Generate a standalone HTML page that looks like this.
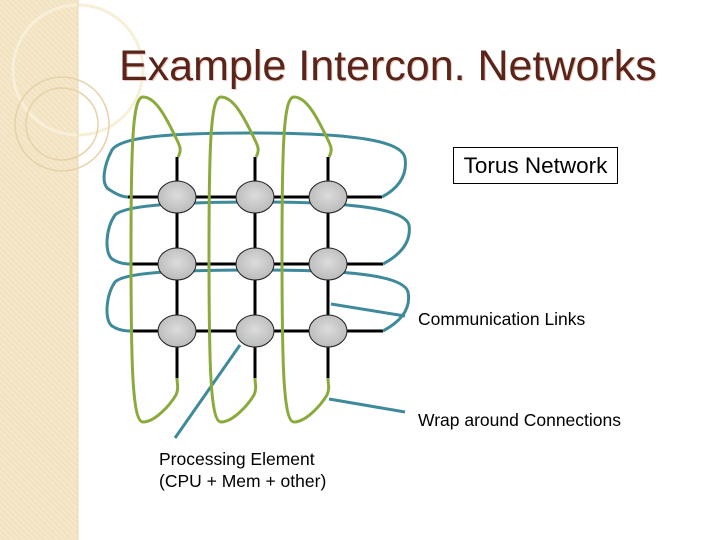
<!DOCTYPE html>
<html><head><style>
html,body{margin:0;padding:0;}
body{width:720px;height:540px;position:relative;background:#fff;overflow:hidden;font-family:"Liberation Sans",sans-serif;}
.side{position:absolute;left:0;top:0;width:78px;height:540px;background:#f2e2c0;
background-image:repeating-linear-gradient(45deg,rgba(255,255,255,.18) 0 2px,transparent 2px 4px);}
.t{position:absolute;left:119px;top:42px;font-size:43px;color:#5a2418;text-shadow:1px 1px 0 #e8c8c0;white-space:nowrap;}
.box{position:absolute;left:453px;top:147px;width:163px;height:35px;border:1px solid #000;font-size:22.5px;line-height:35px;text-align:center;}
.l{position:absolute;font-size:17.5px;white-space:nowrap;line-height:22px;}
</style></head><body>
<div class="side"></div>
<svg style="position:absolute;left:0;top:0" width="720" height="540">
<g fill="none" stroke="#f8efd8" stroke-width="3">
<circle cx="78" cy="70" r="65"/>
</g>
<g fill="none" stroke="#e6d2a8" stroke-width="1.5">
<circle cx="62" cy="124" r="47"/><circle cx="62" cy="124" r="36"/>
</g>
<line x1="78" y1="0" x2="78" y2="540" stroke="#e8d7b5"/>
<g stroke="#000" stroke-width="3">
<line x1="128" y1="197" x2="382" y2="197"/>
<line x1="130" y1="264" x2="383" y2="264"/>
<line x1="130" y1="331" x2="383" y2="331"/>
<line x1="177" y1="157" x2="177" y2="378"/>
<line x1="255" y1="157" x2="255" y2="378"/>
<line x1="328" y1="157" x2="328" y2="378"/>
</g>
<g fill="none" stroke="#3e8a9a" stroke-width="3">
<path d="M382,197 C395,190 408,178 405,158 C402,140 350,133 250,133 C160,133 120,138 112,150 C104,165 100,185 110,190 C116,194 122,197 128,197"/>
<path d="M383,264 C396,257 412,245 409,225 C405,210 360,202 260,202 C180,202 125,205 115,215 C106,228 104,252 112,259 C118,263 124,264 130,264"/>
<path d="M383,331 C396,324 412,312 408,292 C404,277 360,270 260,270 C180,270 125,272 115,282 C106,295 104,320 112,326 C118,330 124,331 130,331"/>
<path d="M331,304 L405,316"/>
<path d="M329,399 L405,412"/>
<path d="M240,345 L175,438"/>
</g>
<g fill="none" stroke="#8aab3c" stroke-width="3">
<path d="M178,157 C182,150 180,146 176,138 C165,115 155,97 143,97 C133,97 131,140 131,250 C131,360 132,422 143,422 C155,422 170,405 176,395 C179,388 177,384 177,378"/>
<path d="M256,157 C260,150 258,146 254,138 C243,115 233,97 221,97 C211,97 209,140 209,250 C209,360 210,422 221,422 C233,422 248,405 254,395 C257,388 255,384 255,378"/>
<path d="M329,157 C333,150 331,146 327,138 C316,115 306,97 294,97 C284,97 282,140 282,250 C282,360 283,422 294,422 C306,422 321,405 327,395 C330,388 328,384 328,378"/>
</g>
<defs><radialGradient id="g" cx="50%" cy="45%" r="60%"><stop offset="0" stop-color="#dcdcdc"/><stop offset="1" stop-color="#b8b8b8"/></radialGradient></defs>
<g fill="url(#g)" stroke="#222" stroke-width="1">
<ellipse cx="177" cy="197" rx="19" ry="16"/><ellipse cx="255" cy="197" rx="19" ry="16"/><ellipse cx="328" cy="197" rx="19" ry="16"/>
<ellipse cx="177" cy="264" rx="19" ry="16"/><ellipse cx="255" cy="264" rx="19" ry="16"/><ellipse cx="328" cy="264" rx="19" ry="16"/>
<ellipse cx="177" cy="331" rx="19" ry="16"/><ellipse cx="255" cy="331" rx="19" ry="16"/><ellipse cx="328" cy="331" rx="19" ry="16"/>
</g>
</svg>
<div class="t">Example Intercon. Networks</div>
<div class="box">Torus Network</div>
<div class="l" style="left:418px;top:308px">Communication Links</div>
<div class="l" style="left:418px;top:409px">Wrap around Connections</div>
<div class="l" style="left:159px;top:448px">Processing Element<br>(CPU + Mem + other)</div>
</body></html>
